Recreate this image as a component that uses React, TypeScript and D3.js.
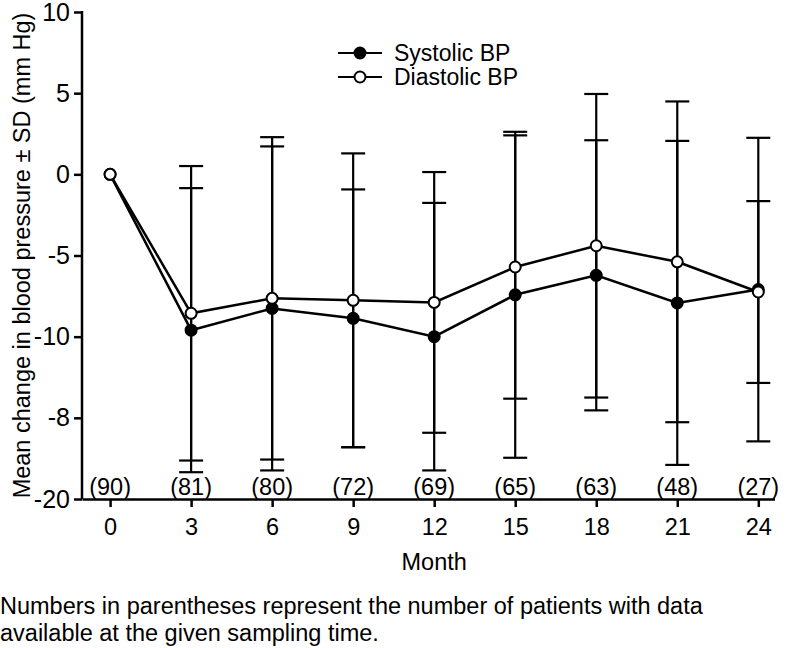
import * as d3 from "d3";
import { useEffect, useRef } from "react";

const months = [0, 3, 6, 9, 12, 15, 18, 21, 24];
const patientCounts = [90, 81, 80, 72, 69, 65, 63, 48, 27];
const systolicMean = [0, -9.6, -8.26, -8.87, -10.0, -7.42, -6.22, -7.92, -7.1];
const systolicSD = [0, 8.75, 9.98, 7.94, 8.24, 10.04, 8.32, 9.98, 9.35];
const diastolicMean = [0, -8.56, -7.64, -7.76, -7.89, -5.71, -4.4, -5.39, -7.25];
const diastolicSD = [0, 9.07, 9.93, 9.05, 8.03, 8.11, 9.35, 9.88, 5.6];
const yTickValues = [10, 5, 0, -5, -10, -15, -20];
const yTickLabels = ["10", "5", "0", "-5", "-10", "-8", "-20"];

const WIDTH = 787;
const HEIGHT = 648;
const FONT = "'Liberation Sans', Arial, sans-serif";

const App = () => {
  const svgRef = useRef<SVGSVGElement | null>(null);

  useEffect(() => {
    const svg = d3.select(svgRef.current);
    svg.selectAll("*").remove();

    const x = d3.scaleLinear().domain([-1.04, 24.6]).range([82, 774.5]);
    const y = d3.scaleLinear().domain([-20, 10]).range([499, 12]);

    // axes
    const yAxis = d3
      .axisLeft(y)
      .tickValues(yTickValues)
      .tickFormat((d, i) => yTickLabels[i])
      .tickSize(8)
      .tickSizeOuter(0)
      .tickPadding(4);
    const gy = svg.append("g").attr("transform", "translate(82,0)").call(yAxis);
    gy.select(".domain").attr("stroke-width", 2.5).attr("d", "M0,11V499");
    gy.selectAll("line").attr("stroke-width", 2.5);
    gy.selectAll("text")
      .attr("font-family", FONT)
      .attr("font-size", 25)
      .attr("fill", "#000");

    const xAxis = d3
      .axisBottom(x)
      .tickValues(months)
      .tickSize(8)
      .tickSizeOuter(0)
      .tickPadding(11);
    const gx = svg.append("g").attr("transform", "translate(0,499)").call(xAxis);
    gx.select(".domain").attr("stroke-width", 2.5);
    gx.selectAll("line").attr("stroke-width", 2.5);
    gx.selectAll("text")
      .attr("font-family", FONT)
      .attr("font-size", 23.5)
      .attr("fill", "#000");

    // axis titles
    svg
      .append("text")
      .attr("transform", `translate(22,${(12 + 499) / 2}) rotate(-90)`)
      .attr("text-anchor", "middle")
      .attr("dominant-baseline", "central")
      .attr("font-family", FONT)
      .attr("font-size", 23.5)
      .text("Mean change in blood pressure ± SD (mm Hg)");

    svg
      .append("text")
      .attr("x", x(12))
      .attr("y", 570)
      .attr("text-anchor", "middle")
      .attr("font-family", FONT)
      .attr("font-size", 23.5)
      .text("Month");

    // patient counts
    svg
      .append("g")
      .selectAll("text")
      .data(patientCounts)
      .join("text")
      .attr("x", (d, i) => x(months[i]))
      .attr("y", 495)
      .attr("text-anchor", "middle")
      .attr("font-family", FONT)
      .attr("font-size", 23.5)
      .text((d) => `(${d})`);

    const series = [
      { mean: systolicMean, sd: systolicSD, fill: "#000" },
      { mean: diastolicMean, sd: diastolicSD, fill: "#fff" },
    ];

    // error bars
    const capHalf = 12;
    series.forEach((s) => {
      const g = svg.append("g").attr("stroke", "#000").attr("stroke-width", 2.2);
      months.forEach((m, i) => {
        if (s.sd[i] === 0) return;
        const cx = x(m);
        const top = y(s.mean[i] + s.sd[i]);
        const bot = y(s.mean[i] - s.sd[i]);
        g.append("line").attr("x1", cx).attr("x2", cx).attr("y1", top).attr("y2", bot);
        g.append("line").attr("x1", cx - capHalf).attr("x2", cx + capHalf).attr("y1", top).attr("y2", top);
        g.append("line").attr("x1", cx - capHalf).attr("x2", cx + capHalf).attr("y1", bot).attr("y2", bot);
      });
    });

    // lines
    const line = d3
      .line<number>()
      .x((d, i) => x(months[i]))
      .y((d) => y(d));
    series.forEach((s) => {
      svg
        .append("path")
        .datum(s.mean)
        .attr("d", line)
        .attr("fill", "none")
        .attr("stroke", "#000")
        .attr("stroke-width", 2.5);
    });

    // markers
    series.forEach((s) => {
      svg
        .append("g")
        .selectAll("circle")
        .data(s.mean)
        .join("circle")
        .attr("cx", (d, i) => x(months[i]))
        .attr("cy", (d) => y(d))
        .attr("r", 5.5)
        .attr("fill", s.fill)
        .attr("stroke", "#000")
        .attr("stroke-width", 2);
    });

    // legend
    const legend = svg.append("g");
    [
      { label: "Systolic BP", fill: "#000" },
      { label: "Diastolic BP", fill: "#fff" },
    ].forEach((item, i) => {
      const ly = 53 + i * 24;
      legend
        .append("line")
        .attr("x1", 338)
        .attr("x2", 382)
        .attr("y1", ly)
        .attr("y2", ly)
        .attr("stroke", "#000")
        .attr("stroke-width", 2.2);
      legend
        .append("circle")
        .attr("cx", 360)
        .attr("cy", ly)
        .attr("r", 5.5)
        .attr("fill", item.fill)
        .attr("stroke", "#000")
        .attr("stroke-width", 2);
      legend
        .append("text")
        .attr("x", 394)
        .attr("y", ly)
        .attr("dominant-baseline", "central")
        .attr("font-family", FONT)
        .attr("font-size", 23)
        .text(item.label);
    });

    // footnote
    const note = svg
      .append("text")
      .attr("font-family", FONT)
      .attr("font-size", 23.5);
    note.append("tspan").attr("x", 0).attr("y", 614).text("Numbers in parentheses represent the number of patients with data");
    note.append("tspan").attr("x", 0).attr("y", 641).text("available at the given sampling time.");
  }, []);

  return (
    <svg
      ref={svgRef}
      width={WIDTH}
      height={HEIGHT}
      style={{ position: "absolute", left: 0, top: 0, background: "#fff" }}
    />
  );
};

export default App;
